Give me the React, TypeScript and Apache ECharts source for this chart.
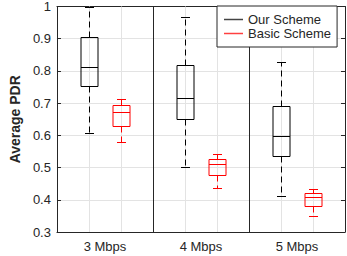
import React, { useEffect, useRef } from "react";
import * as echarts from "echarts";

const categories = ["3 Mbps", "4 Mbps", "5 Mbps"];
const seriesNames = ["Our Scheme", "Basic Scheme"];
// [lower whisker, Q1, median, Q3, upper whisker]
const ourScheme = [
  [0.607, 0.752, 0.811, 0.904, 0.998],
  [0.501, 0.650, 0.717, 0.819, 0.968],
  [0.412, 0.535, 0.599, 0.691, 0.828],
];
const basicScheme = [
  [0.578, 0.628, 0.674, 0.695, 0.714],
  [0.438, 0.476, 0.511, 0.527, 0.541],
  [0.350, 0.382, 0.409, 0.420, 0.433],
];
const yTicks = [0.3, 0.4, 0.5, 0.6, 0.7, 0.8, 0.9, 1];

const TEXT = "#262626";
const GRIDC = "#e3e3e3";
const FONT = "Liberation Sans, Arial, sans-serif";

export default function App() {
  const ref = useRef<HTMLDivElement>(null);
  useEffect(() => {
    if (!ref.current) return;
    document.body.style.margin = "0";
    const chart = echarts.init(ref.current, undefined, { renderer: "svg" });
    const n = categories.length;
    const boxPositions: number[] = [];
    for (let i = 0; i < n; i++) boxPositions.push(i * 3 + 1, i * 3 + 2);
    const labelPositions = categories.map((_, i) => i * 3 + 1.5);
    const separators = categories.slice(1).map((_, i) => (i + 1) * 3);

    const makeData = (arr: number[][], offset: number) =>
      arr.map((v, i) => [i * 3 + 1 + offset, ...v]);

    const makeRender = (color: string) => (params: any, api: any) => {
      const x = api.value(0);
      const c = (v: number) => api.coord([x, v]);
      const lo = c(api.value(1));
      const q1 = c(api.value(2));
      const md = c(api.value(3));
      const q3 = c(api.value(4));
      const hi = c(api.value(5));
      const cx = Math.round(lo[0]) + 0.5;
      const hw = 8.5;
      const cw = 4.5;
      const solid = { stroke: color, lineWidth: 1, fill: null };
      const dashed = { stroke: color, lineWidth: 1, lineDash: [6, 4], fill: null };
      const r = (y: number) => Math.round(y) + 0.5;
      return {
        type: "group",
        children: [
          { type: "line", shape: { x1: cx, y1: r(q3[1]), x2: cx, y2: r(hi[1]) }, style: dashed },
          { type: "line", shape: { x1: cx, y1: r(q1[1]), x2: cx, y2: r(lo[1]) }, style: dashed },
          { type: "line", shape: { x1: cx - cw, y1: r(hi[1]), x2: cx + cw, y2: r(hi[1]) }, style: solid },
          { type: "line", shape: { x1: cx - cw, y1: r(lo[1]), x2: cx + cw, y2: r(lo[1]) }, style: solid },
          {
            type: "rect",
            shape: { x: cx - hw, y: r(q3[1]), width: hw * 2, height: r(q1[1]) - r(q3[1]) },
            style: solid,
          },
          { type: "line", shape: { x1: cx - hw, y1: r(md[1]), x2: cx + hw, y2: r(md[1]) }, style: solid },
        ],
      };
    };

    const xCommon = {
      type: "value" as const,
      min: 0,
      max: n * 3,
      axisLine: { show: true, onZero: false, lineStyle: { color: TEXT, width: 1 } },
      axisTick: {
        show: true,
        inside: true,
        length: 4,
        customValues: boxPositions,
        lineStyle: { color: TEXT },
      },
    };
    const yCommon = {
      type: "value" as const,
      min: 0.3,
      max: 1,
      interval: 0.1,
      axisLine: { show: true, onZero: false, lineStyle: { color: TEXT, width: 1 } },
      axisTick: { show: true, inside: true, length: 4, lineStyle: { color: TEXT } },
    };

    chart.setOption({
      animation: false,
      backgroundColor: "#fff",
      textStyle: { fontFamily: FONT },
      grid: { left: 45, right: 2, top: 5, bottom: 24, containLabel: false },
      legend: {
        orient: "vertical",
        left: 217,
        top: 6,
        padding: [7, 6, 7, 7],
        itemGap: 1,
        itemWidth: 19,
        itemHeight: 1.5,
        icon: "rect",
        backgroundColor: "#fff",
        borderColor: TEXT,
        borderWidth: 1,
        borderRadius: 0,
        textStyle: { fontSize: 13, color: TEXT, fontFamily: FONT },
        data: [
          { name: seriesNames[0], itemStyle: { color: "#444" } },
          { name: seriesNames[1], itemStyle: { color: "#ff4040" } },
        ],
        z: 10,
      },
      xAxis: [
        {
          ...xCommon,
          position: "bottom",
          axisLabel: {
            show: true,
            customValues: labelPositions,
            formatter: (v: number) => categories[Math.round((v - 1.5) / 3)] ?? "",
            fontSize: 13,
            color: TEXT,
            fontFamily: FONT,
            margin: 8,
          },
          splitLine: { show: false },
        },
        {
          ...xCommon,
          position: "top",
          axisLabel: { show: false },
          splitLine: { show: false },
        },
      ],
      yAxis: [
        {
          ...yCommon,
          position: "left",
          name: "Average PDR",
          nameLocation: "middle",
          nameRotate: 90,
          nameGap: 31,
          nameTextStyle: { fontSize: 14, fontWeight: "bold", color: TEXT, fontFamily: FONT },
          axisLabel: {
            show: true,
            fontSize: 13,
            color: TEXT,
            fontFamily: FONT,
            margin: 6,
            formatter: (v: number) => {
              const t = yTicks.find((k) => Math.abs(k - v) < 1e-6);
              return t === undefined ? "" : String(t);
            },
          },
          splitLine: { show: true, lineStyle: { color: GRIDC, width: 1 } },
        },
        {
          ...yCommon,
          position: "right",
          axisLabel: { show: false },
          splitLine: { show: false },
        },
      ],
      series: [
        {
          name: seriesNames[0],
          type: "custom",
          xAxisIndex: 0,
          yAxisIndex: 0,
          itemStyle: { color: "#000" },
          renderItem: makeRender("#000"),
          data: makeData(ourScheme, 0),
          encode: { x: 0, y: [1, 2, 3, 4, 5] },
          z: 3,
          markLine: {
            silent: true,
            symbol: "none",
            label: { show: false },
            lineStyle: { color: TEXT, width: 1, type: "solid" },
            data: separators.map((s) => ({ xAxis: s })),
          },
        },
        {
          name: seriesNames[1],
          type: "custom",
          xAxisIndex: 0,
          yAxisIndex: 0,
          itemStyle: { color: "#ff0000" },
          renderItem: makeRender("#ff0000"),
          data: makeData(basicScheme, 1),
          encode: { x: 0, y: [1, 2, 3, 4, 5] },
          z: 3,
          markLine: {
            silent: true,
            symbol: "none",
            label: { show: false },
            z: 1,
            lineStyle: { color: GRIDC, width: 1, type: "solid" },
            data: boxPositions.map((s) => ({ xAxis: s })),
          },
        },
      ],
    });
    return () => chart.dispose();
  }, []);
  return <div ref={ref} style={{ width: 347, height: 256 }} />;
}
